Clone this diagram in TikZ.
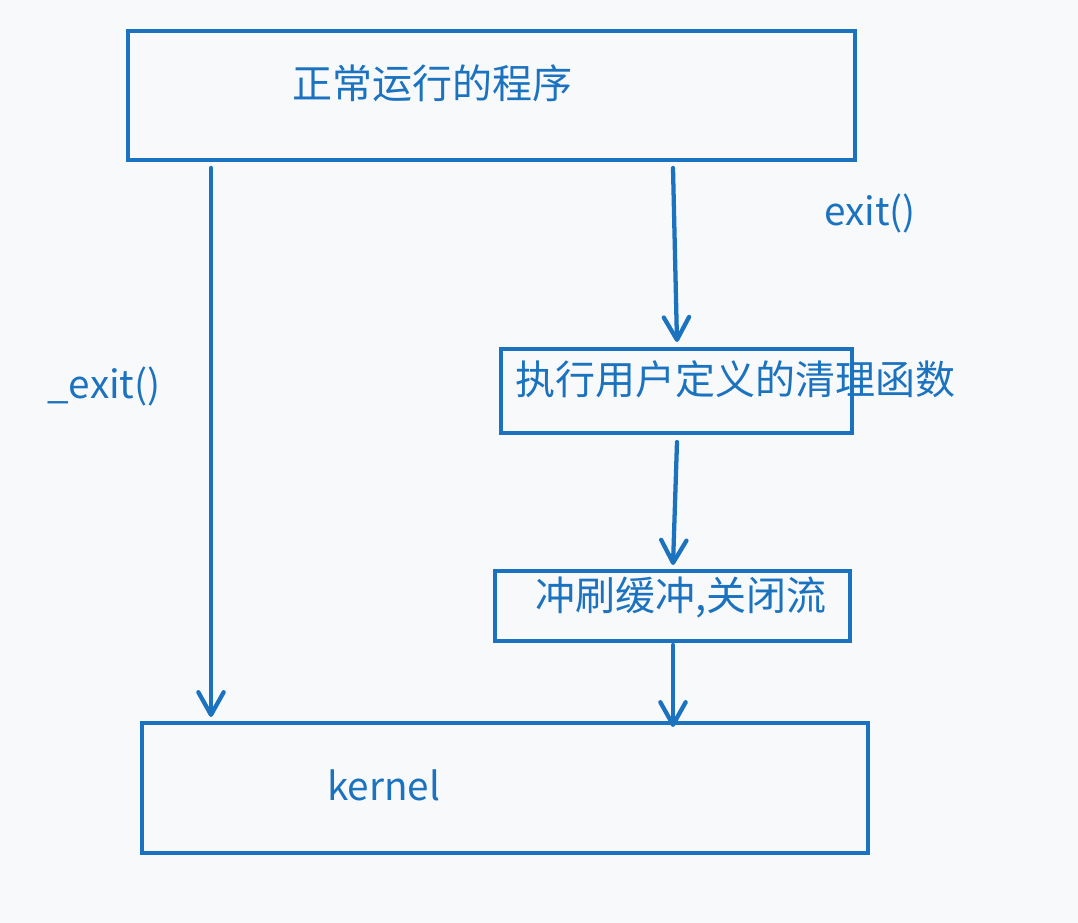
\documentclass[tikz,border=0pt]{standalone}
\usepackage{fontspec}
\setmainfont{Noto Sans CJK SC}
\usetikzlibrary{arrows.meta,calc}
\definecolor{bg}{RGB}{248,249,251}
\definecolor{ink}{RGB}{27,115,192}
\begin{document}
\begin{tikzpicture}[x=0.75pt,y=-0.75pt,
  box/.style={draw=ink, line width=3.3pt, inner sep=0pt, outer sep=0pt, rectangle},
  lbl/.style={text=ink, font=\fontsize{29}{34}\selectfont, inner sep=0pt, anchor=west},
  cjk/.style={lbl, font=\fontsize{30}{36}\selectfont},
  arr/.style={draw=ink, line width=3.2pt, line cap=round,
    -{Straight Barb[length=17pt,width=19pt,line width=3.2pt,round]}}]
\fill[bg] (0,0) rectangle (1078,923);
\useasboundingbox (0,0) rectangle (1078,923);

% boxes
\node[box, minimum width=545.25pt, minimum height=96.75pt] (top) at (491.5,95.5) {};
\node[box, minimum width=263.25pt, minimum height=63pt] (clean) at (676.5,391) {};
\node[box, minimum width=266.25pt, minimum height=52.5pt] (flush) at (672.5,606) {};
\node[box, minimum width=544.5pt, minimum height=97.5pt] (kernel) at (505,788) {};

% texts
\node[cjk] (ttop) at (292,83) {正常运行的程序};
\node[cjk] (tclean) at (515,379) {执行用户定义的清理函数};
\node[cjk] (tflush) at (535,597) {冲刷缓冲,关闭流};
\node[lbl] (tkernel) at (327,785) {kernel};
\node[lbl] (lexit) at (824,213) {exit()};
\node[lbl] (l_exit) at (47,386) {\_exit()};

% arrow x positions
\coordinate (xl) at (211,0);
\coordinate (xa) at (673,0);
\coordinate (xb) at (677,0);

% connectors
\draw[arr] ($(top.south -| xl)+(0,8)$) -- ($(kernel.north -| xl)+(0,-6)$);
\draw[arr] ($(top.south -| xa)+(0,8)$) -- ($(clean.north -| xb)+(0,-7)$);
\draw[arr] ($(clean.south -| xb)+(0,9)$) -- ($(flush.north -| xa)+(0,-6)$);
\draw[arr] ($(flush.south -| xa)+(0,4)$) -- ($(kernel.north -| xa)+(0,4)$);
\end{tikzpicture}
\end{document}
